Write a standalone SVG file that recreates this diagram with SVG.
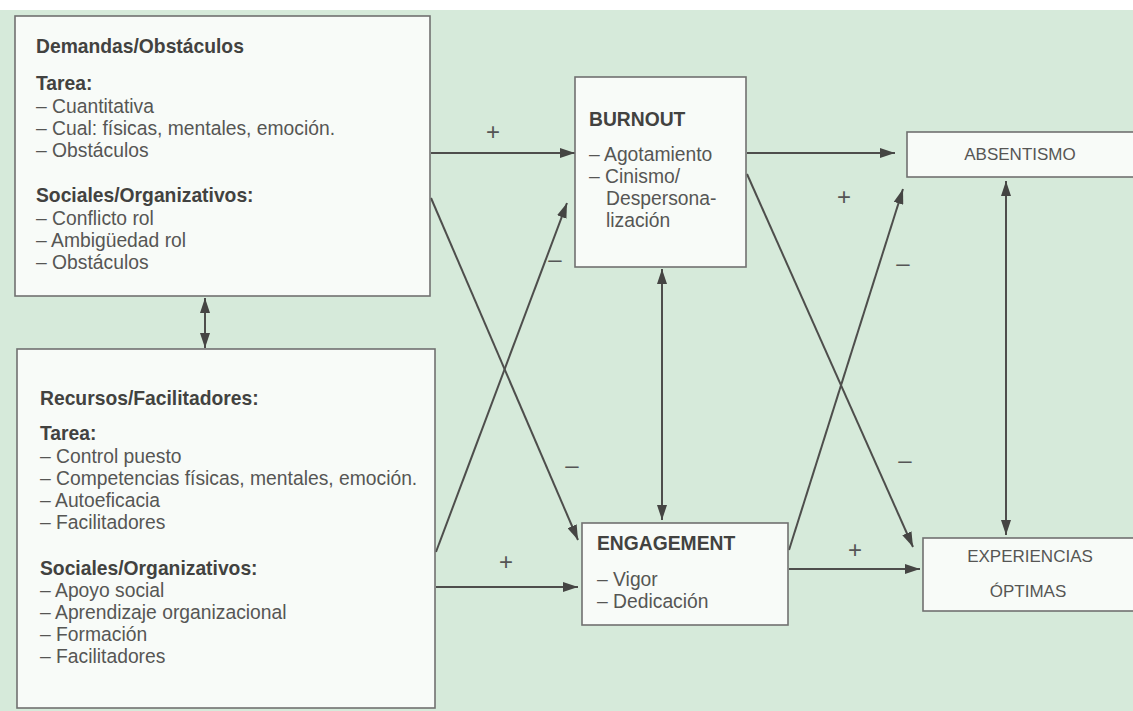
<svg xmlns="http://www.w3.org/2000/svg" width="1133" height="711" viewBox="0 0 1133 711">
<defs>
<marker id="ah" viewBox="0 0 15 10" refX="15" refY="5" markerWidth="15" markerHeight="10" markerUnits="userSpaceOnUse" orient="auto-start-reverse">
<path d="M0,0 L15,5 L0,10 z" fill="#454543"/>
</marker>
<style>
.box{fill:#f8fbf8;stroke:#717170;stroke-width:1.6}
.t{font-family:"Liberation Sans",Arial,sans-serif;font-size:19.3px;fill:#565654}
.b{font-weight:bold;fill:#424240}
.c{text-anchor:middle;font-size:17px}
.ln{stroke:#4e4e4c;stroke-width:2;fill:none}
.sg{font-family:"Liberation Sans",Arial,sans-serif;font-size:24px;fill:#555;text-anchor:middle}
</style>
</defs>
<rect x="0" y="0" width="1133" height="711" fill="#ffffff"/>
<rect x="0" y="10" width="1133" height="701" fill="#d6eada"/>

<g id="connectors">
<line class="ln" x1="431" y1="153" x2="575" y2="153" marker-end="url(#ah)"/>
<line class="ln" x1="431" y1="198" x2="578" y2="540" marker-end="url(#ah)"/>
<line class="ln" x1="436" y1="552" x2="567" y2="203" marker-end="url(#ah)"/>
<line class="ln" x1="436" y1="587" x2="578" y2="587" marker-end="url(#ah)"/>
<line class="ln" x1="747" y1="153" x2="895" y2="153" marker-end="url(#ah)"/>
<line class="ln" x1="747" y1="174" x2="913" y2="547" marker-end="url(#ah)"/>
<line class="ln" x1="789" y1="550" x2="903" y2="189" marker-end="url(#ah)"/>
<line class="ln" x1="789" y1="569" x2="920" y2="569" marker-end="url(#ah)"/>
<line class="ln" x1="662" y1="269" x2="662" y2="520" marker-start="url(#ah)" marker-end="url(#ah)"/>
<line class="ln" x1="1006" y1="181" x2="1006" y2="535" marker-start="url(#ah)" marker-end="url(#ah)"/>
<line class="ln" x1="205" y1="298" x2="205" y2="348" marker-start="url(#ah)" marker-end="url(#ah)"/>
<text class="sg" x="493" y="140">+</text>
<text class="sg" x="844" y="205">+</text>
<text class="sg" x="506" y="570">+</text>
<text class="sg" x="855" y="558">+</text>
<text class="sg" x="555" y="267">–</text>
<text class="sg" x="572" y="473">–</text>
<text class="sg" x="903" y="271">–</text>
<text class="sg" x="905" y="468">–</text>
</g>

<g id="demandas">
<rect class="box" x="15" y="16" width="415" height="280"/>
<text class="t b" x="36" y="53">Demandas/Obstáculos</text>
<text class="t b" x="36" y="90">Tarea:</text>
<text class="t" x="36" y="113">– Cuantitativa</text>
<text class="t" x="36" y="135">– Cual: físicas, mentales, emoción.</text>
<text class="t" x="36" y="157">– Obstáculos</text>
<text class="t b" x="36" y="202">Sociales/Organizativos:</text>
<text class="t" x="36" y="225">– Conflicto rol</text>
<text class="t" x="36" y="247">– Ambigüedad rol</text>
<text class="t" x="36" y="269">– Obstáculos</text>
</g>

<g id="recursos">
<rect class="box" x="17" y="349" width="418" height="359"/>
<text class="t b" x="40" y="405">Recursos/Facilitadores:</text>
<text class="t b" x="40" y="440">Tarea:</text>
<text class="t" x="40" y="463">– Control puesto</text>
<text class="t" x="40" y="485">– Competencias físicas, mentales, emoción.</text>
<text class="t" x="40" y="507">– Autoeficacia</text>
<text class="t" x="40" y="529">– Facilitadores</text>
<text class="t b" x="40" y="575">Sociales/Organizativos:</text>
<text class="t" x="40" y="597">– Apoyo social</text>
<text class="t" x="40" y="619">– Aprendizaje organizacional</text>
<text class="t" x="40" y="641">– Formación</text>
<text class="t" x="40" y="663">– Facilitadores</text>
</g>

<g id="burnout">
<rect class="box" x="575" y="77" width="171" height="190"/>
<text class="t b" x="589" y="126">BURNOUT</text>
<text class="t" x="589" y="161">– Agotamiento</text>
<text class="t" x="589" y="183">– Cinismo/</text>
<text class="t" x="606" y="205">Despersona-</text>
<text class="t" x="606" y="227">lización</text>
</g>

<g id="engagement">
<rect class="box" x="582" y="523" width="206" height="102"/>
<text class="t b" x="597" y="550">ENGAGEMENT</text>
<text class="t" x="597" y="586">– Vigor</text>
<text class="t" x="597" y="608">– Dedicación</text>
</g>

<g id="absentismo">
<rect class="box" x="907" y="132" width="240" height="45"/>
<text class="t c" x="1020" y="160">ABSENTISMO</text>
</g>

<g id="experiencias">
<rect class="box" x="923" y="538" width="230" height="73"/>
<text class="t c" x="1030" y="562">EXPERIENCIAS</text>
<text class="t c" x="1028" y="597">ÓPTIMAS</text>
</g>
</svg>
